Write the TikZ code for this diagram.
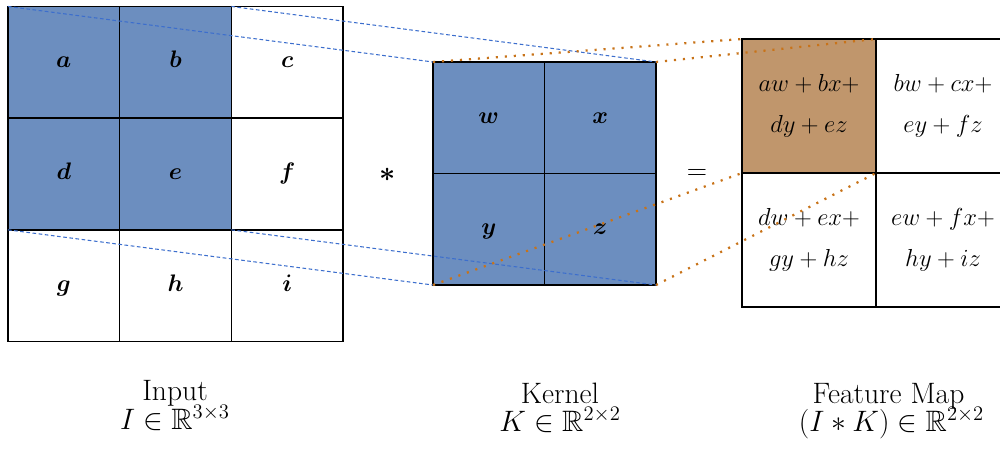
\RequirePackage{fix-cm}
\documentclass[tikz,border=0pt]{standalone}
\usepackage{amsmath,amssymb}
\definecolor{cellblue}{RGB}{108,142,191}
\definecolor{cellbrown}{RGB}{192,150,108}
\definecolor{linkblue}{RGB}{60,110,205}
\definecolor{linkorange}{RGB}{200,115,25}
\begin{document}
\begin{tikzpicture}[x=0.025cm,y=-0.025cm,
  gridcell/.style={draw=black,line width=0.95pt,inner sep=0pt,outer sep=0pt,
    font=\fontsize{17}{20}\selectfont},
  incell/.style={gridcell,minimum size=2.7917cm,text height=10pt,text depth=2.2pt},
  kcell/.style={gridcell,minimum size=2.7875cm,text height=10pt,text depth=2.2pt},
  fcell/.style={gridcell,minimum size=3.35cm,align=center,
    font=\fontsize{17.5}{29}\selectfont},
  blueon/.style={fill=cellblue},
  brownon/.style={fill=cellbrown},
  op/.style={inner sep=0pt,font=\fontsize{20}{24}\selectfont},
  lab/.style={inner sep=0pt,anchor=base,font=\fontsize{21}{24}\selectfont},
  bluelink/.style={draw=linkblue,line width=0.75pt,dash pattern=on 2.6pt off 1.8pt},
  orangelink/.style={draw=linkorange,line width=1.6pt,
    dash pattern=on 1.5pt off 4.9pt}
]
\useasboundingbox (0,0) rectangle (1000,450);
% Input
\node[incell,blueon] (a) at (63.8,62.3) {$\boldsymbol{a}$};
\node[incell,blueon] (b) at (175.5,62.3) {$\boldsymbol{b}$};
\node[incell] (c) at (287.2,62.3) {$\boldsymbol{c}$};
\node[incell,blueon] (d) at (63.8,174) {$\boldsymbol{d}$};
\node[incell,blueon] (e) at (175.5,174) {$\boldsymbol{e}$};
\node[incell] (f) at (287.2,174) {$\boldsymbol{f}$};
\node[incell] (g) at (63.8,285.7) {$\boldsymbol{g}$};
\node[incell] (h) at (175.5,285.7) {$\boldsymbol{h}$};
\node[incell] (i) at (287.2,285.7) {$\boldsymbol{i}$};
% operators
\node[op] (star) at (388,175) {$\boldsymbol{\ast}$};
\node[op] (eq) at (697,174) {$=$};
% Kernel
\node[kcell,blueon] (kw) at (488.75,117.75) {$\boldsymbol{w}$};
\node[kcell,blueon] (kx) at (600.25,117.75) {$\boldsymbol{x}$};
\node[kcell,blueon] (ky) at (488.75,229.25) {$\boldsymbol{y}$};
\node[kcell,blueon] (kz) at (600.25,229.25) {$\boldsymbol{z}$};
% Feature map
\node[fcell,brownon] (f1) at (809,106) {$aw+bx+$\\$dy+ez$};
\node[fcell] (f2) at (943,106) {$bw+cx+$\\$ey+fz$};
\node[fcell] (f3) at (809,240) {$dw+ex+$\\$gy+hz$};
\node[fcell] (f4) at (943,240) {$ew+fx+$\\$hy+iz$};
% connectors
\draw[bluelink] (a.north west) -- (kw.north west);
\draw[bluelink] (b.north east) -- (kx.north east);
\draw[bluelink] (d.south west) -- (ky.south west);
\draw[bluelink] (e.south east) -- (kz.south east);
\draw[orangelink] (kw.north west) -- (f1.north west);
\draw[orangelink] (kx.north east) -- (f1.north east);
\draw[orangelink] (ky.south west) -- (f1.south west);
\draw[orangelink] (kz.south east) -- (f1.south east);
% labels
\node[lab] (inlab) at (175,400.7) {Input};
\node[lab] (inmath) at (175,429) {$I\in\mathbb{R}^{3\times 3}$};
\node[lab] (klab) at (560,403.3) {Kernel};
\node[lab] (kmath) at (560,431) {$K\in\mathbb{R}^{2\times 2}$};
\node[lab] (flab) at (888.5,403) {Feature Map};
\node[lab] (fmath) at (891.5,431) {$(I\ast K)\in\mathbb{R}^{2\times 2}$};
\end{tikzpicture}
\end{document}
